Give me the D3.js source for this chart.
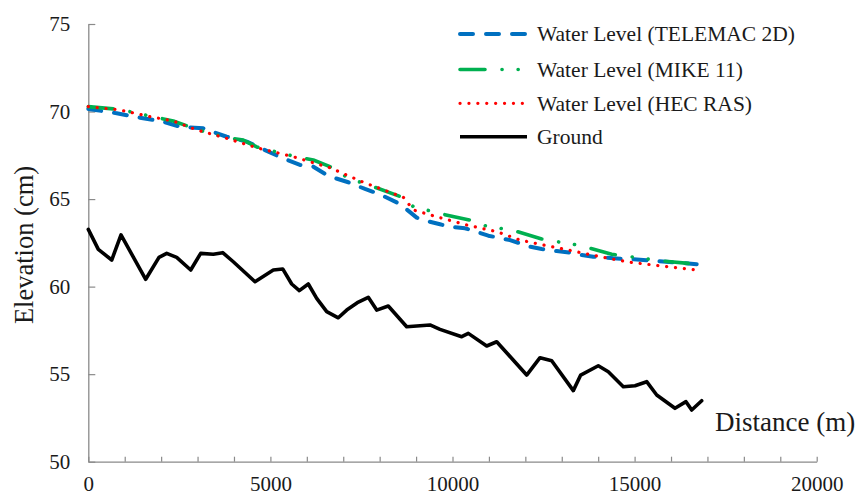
<!DOCTYPE html>
<html>
<head>
<meta charset="utf-8">
<script src="https://cdn.jsdelivr.net/npm/d3@7"></script>
<style>
  html, body { margin: 0; padding: 0; background: #ffffff; }
  svg { display: block; }
  svg text { font-family: "Liberation Serif", "Times New Roman", serif !important; }
</style>
</head>
<body>
<svg id="chart" width="859" height="496"></svg>
<script>
// ---- data (distance in m, elevation) ----
const telemacDist = [0, 780, 1420, 2059, 2518, 3158, 3800, 4349, 4852, 5310, 5813, 6178, 6590, 7139, 7597, 8009, 8558, 9017, 9292, 9657, 9931, 10343, 10571, 10983, 11579, 12128, 12449, 12861, 13226, 13547, 13866, 14415, 14964, 15607, 16705];
const telemacLevel = [70.15, 69.9, 69.65, 69.42, 69.13, 69.04, 68.56, 68.28, 67.8, 67.36, 66.95, 66.85, 66.32, 65.96, 65.58, 65.27, 64.72, 63.94, 63.75, 63.56, 63.42, 63.33, 63.19, 62.91, 62.66, 62.28, 62.15, 62.03, 61.94, 61.81, 61.71, 61.62, 61.56, 61.46, 61.28];

const mikeDist = [0, 870, 1694, 2334, 2976, 3800, 4256, 4624, 5629, 6178, 6636, 7139, 7825, 8558, 8924, 9747, 10480, 10892, 11716, 12449, 12861, 13317, 13729, 14371, 14874, 15788, 16474];
const mikeLevel = [70.28, 70.12, 69.74, 69.46, 68.98, 68.5, 68.37, 67.98, 67.45, 67.23, 66.85, 66.2, 65.71, 65.15, 64.57, 64.13, 63.8, 63.48, 63.18, 62.72, 62.57, 62.42, 62.22, 61.85, 61.71, 61.46, 61.33];

const hecDist = [0, 870, 1694, 2334, 2976, 3800, 4624, 5629, 6636, 7551, 8649, 8924, 9566, 10390, 11214, 11853, 12493, 13317, 14050, 14874, 15697, 16705];
const hecLevel = [70.28, 70.09, 69.71, 69.46, 68.95, 68.47, 67.93, 67.42, 66.79, 65.96, 65.1, 64.38, 63.99, 63.52, 63.14, 62.66, 62.38, 62.03, 61.71, 61.39, 61.19, 60.95];

const groundDist = [0, 275, 643, 898, 1576, 1941, 2153, 2427, 2812, 3086, 3432, 3690, 3981, 4577, 5080, 5338, 5585, 5794, 6041, 6271, 6546, 6864, 7095, 7386, 7688, 7919, 8237, 8742, 9382, 9657, 10253, 10434, 10939, 11214, 12037, 12403, 12724, 13317, 13520, 14003, 14278, 14690, 15011, 15332, 15607, 16109, 16411, 16568, 16842];
const groundLevel = [63.27, 62.13, 61.52, 62.95, 60.42, 61.67, 61.9, 61.67, 60.95, 61.9, 61.85, 61.94, 61.42, 60.28, 60.95, 61.01, 60.15, 59.77, 60.15, 59.33, 58.57, 58.22, 58.66, 59.08, 59.39, 58.66, 58.89, 57.71, 57.81, 57.56, 57.14, 57.33, 56.61, 56.85, 54.95, 55.94, 55.77, 54.06, 54.95, 55.48, 55.14, 54.28, 54.34, 54.57, 53.81, 53.05, 53.43, 52.95, 53.48];

const seriesNames = ["Water Level (TELEMAC 2D)", "Water Level (MIKE 11)", "Water Level (HEC RAS)", "Ground"];
const xTickValues = [0, 5000, 10000, 15000, 20000];
const yTickValues = [50, 55, 60, 65, 70, 75];
const xTitle = "Distance (m)";
const yTitle = "Elevation (cm)";

// ---- drawing ----
const serif = '"Liberation Serif", "Times New Roman", serif';
const svg = d3.select("#chart");
const x = d3.scaleLinear().domain([0, 20000]).range([88.3, 816.7]);
const y = d3.scaleLinear().domain([50, 75]).range([461.7, 24]);
const axisColor = "#8a8a8a";
const textColor = "#1a1a1a";

// x axis
const xAxis = d3.axisBottom(x)
  .tickValues(d3.range(0, 20001, 1000))
  .tickSizeInner(-5).tickSizeOuter(0).tickPadding(14.5)
  .tickFormat(d => xTickValues.includes(d) ? String(d) : "");
const gx = svg.append("g").attr("transform", `translate(0,${y(50)})`).call(xAxis)
  .attr("font-family", null).style("font-family", serif);
gx.select(".domain").attr("stroke", axisColor).attr("stroke-width", 1.3);
gx.selectAll(".tick line").attr("stroke", axisColor).attr("stroke-width", 1.2);
gx.selectAll(".tick text").attr("fill", textColor).attr("font-size", 21)
  .style("font-family", serif);

// y axis
const yAxis = d3.axisLeft(y)
  .tickValues(yTickValues)
  .tickSizeInner(-7).tickSizeOuter(0).tickPadding(18)
  .tickFormat(d3.format("d"));
const gy = svg.append("g").attr("transform", `translate(${x(0)},0)`).call(yAxis)
  .attr("font-family", null).style("font-family", serif);
gy.select(".domain").attr("stroke", axisColor).attr("stroke-width", 1.3);
gy.selectAll(".tick line").attr("stroke", axisColor).attr("stroke-width", 1.2);
gy.selectAll(".tick text").attr("fill", textColor).attr("font-size", 21)
  .style("font-family", serif);

// lines
const line = d3.line().x(d => x(d[0])).y(d => y(d[1]));
const zip = (a, b) => a.map((v, i) => [v, b[i]]);

const styles = [
  { color: "#0070C0", width: 4, dash: "13,13", cap: "round" },
  { color: "#00B050", width: 3.6, dash: "25,17,0.1,16,0.1,17", cap: "round" },
  { color: "#FF0000", width: 3.2, dash: "0.1,8.8", cap: "round" },
  { color: "#000000", width: 3.6, dash: null, cap: "round" }
];
const datasets = [
  zip(telemacDist, telemacLevel),
  zip(mikeDist, mikeLevel),
  zip(hecDist, hecLevel),
  zip(groundDist, groundLevel)
];

[3, 0, 1, 2].forEach(i => {
  const s = styles[i];
  svg.append("path")
    .datum(datasets[i])
    .attr("d", line)
    .attr("fill", "none")
    .attr("stroke", s.color)
    .attr("stroke-width", s.width)
    .attr("stroke-linecap", s.cap)
    .attr("stroke-linejoin", "round")
    .attr("stroke-dasharray", s.dash);
});

// legend
const legendRowsY = [34, 69.5, 103.3, 136.7];
const lg = svg.append("g");
seriesNames.forEach((name, i) => {
  const s = styles[i];
  lg.append("line")
    .attr("x1", 460).attr("x2", 527)
    .attr("y1", legendRowsY[i]).attr("y2", legendRowsY[i])
    .attr("stroke", s.color).attr("stroke-width", s.width)
    .attr("stroke-linecap", i === 3 ? "butt" : s.cap)
    .attr("stroke-dasharray", s.dash);
  lg.append("text")
    .attr("x", 537).attr("y", legendRowsY[i] + 7.2)
    .attr("font-size", 21.5).attr("fill", textColor)
    .style("font-family", serif)
    .text(name);
});

// axis titles
svg.append("text")
  .attr("x", 715).attr("y", 431)
  .attr("font-size", 27).attr("fill", textColor)
  .style("font-family", serif)
  .text(xTitle);
svg.append("text")
  .attr("transform", "translate(33,245) rotate(-90)")
  .attr("text-anchor", "middle")
  .attr("font-size", 26.5).attr("fill", textColor)
  .style("font-family", serif)
  .text(yTitle);
</script>
</body>
</html>
